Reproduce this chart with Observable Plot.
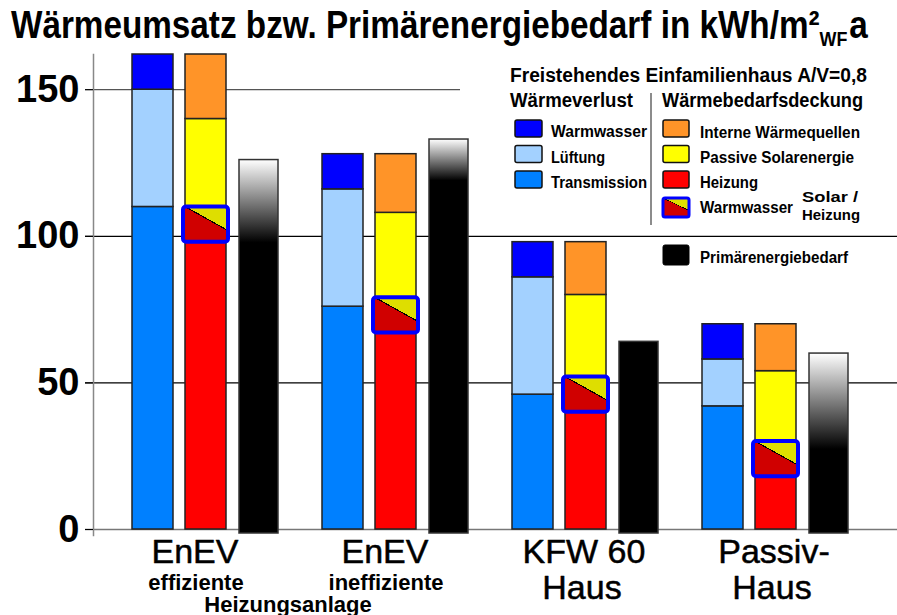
<!DOCTYPE html>
<html><head><meta charset="utf-8">
<script src="https://cdn.jsdelivr.net/npm/d3@7"></script>
<script src="https://cdn.jsdelivr.net/npm/@observablehq/plot@0.6"></script>
<style>
body{margin:0;background:#fff;}
#wrap{position:relative;width:897px;height:615px;overflow:hidden;font-family:"Liberation Sans",Arial,sans-serif;background:#fff;}
#title{height:50px;}
#title svg, #legend{display:block;}
#legend{position:absolute;left:0;top:0;}
</style></head><body>
<div id="wrap"><div id="title"></div><div id="chart"></div></div>
<script>
// ---------- data ----------
const groups = ["EnEV effizient", "EnEV ineffizient", "KFW 60 Haus", "Passivhaus"];
const labelLine1 = ["EnEV", "EnEV", "KFW 60", "Passiv-"];
const labelLine2 = ["", "", "Haus", "Haus"];
const labelSub = ["effiziente", "ineffiziente", "", ""];
const labelShared = "Heizungsanlage";

const lossTypes = ["Transmission", "Lüftung", "Warmwasser"];
const transmission = [110, 76, 46, 42];
const lueftung = [40, 40, 40, 16];
const warmwasser = [12, 12, 12, 12];

const supplyTypes = ["Heizung", "Passive Solarenergie", "Interne Wärmequellen"];
const heizung = [110, 79, 52, 30];
const passivSolar = [30, 29, 28, 24];
const interneQuellen = [22, 20, 18, 16];

const primaerenergie = [126, 133, 64, 60];
const primaerSchwarzAb = [98, 119, 64, 28];

const yTicks = [0, 50, 100, 150];
const yMax = 162;

const titleMain = "Wärmeumsatz bzw. Primärenergiebedarf in kWh/m²";
const titleSub = "WF";
const titleEnd = "a";
const legendHead = "Freistehendes Einfamilienhaus A/V=0,8";
const legendLossHead = "Wärmeverlust";
const legendSupplyHead = "Wärmebedarfsdeckung";
const legendLoss = ["Warmwasser", "Lüftung", "Transmission"];
const legendSupply = ["Interne Wärmequellen", "Passive Solarenergie", "Heizung"];
const legendWW = "Warmwasser";
const legendWWNote = ["Solar /", "Heizung"];
const legendPrimary = "Primärenergiebedarf";

// ---------- styles ----------
const typeColors = {
  "Transmission": "#0080ff", "Lüftung": "#a3d1ff", "Warmwasser": "#0000ff",
  "Heizung": "#ff0000", "Passive Solarenergie": "#ffff00", "Interne Wärmequellen": "#ff9428"
};
const FONT = "'Liberation Sans', Arial, sans-serif";

// ---------- tables ----------
const lossValues = [transmission, lueftung, warmwasser];
const supplyValues = [heizung, passivSolar, interneQuellen];
const lossData = [], supplyData = [];
groups.forEach((g, i) => {
  lossTypes.forEach((t, k) => lossData.push({group: g, type: t, value: lossValues[k][i]}));
  supplyTypes.forEach((t, k) => supplyData.push({group: g, type: t, value: supplyValues[k][i]}));
});
const wwBox = groups.map((g, i) => ({group: g, y1: heizung[i] - warmwasser[i], y2: heizung[i]}));
const primaryData = groups.map((g, i) => ({group: g, value: primaerenergie[i]}));
const labels = groups.map((g, i) => ({group: g, l1: labelLine1[i], l2: labelLine2[i], sub: labelSub[i]}));

// ---------- plot ----------
const LOSS = {insetLeft: 0, insetRight: 106};
const SUP = {insetLeft: 53, insetRight: 53};
const PRIM = {insetLeft: 107, insetRight: 1};
const BIG = {fontSize: 34, fill: "#000", stroke: "#000", strokeWidth: 0.5};

const plot = Plot.plot({
  width: 897, height: 565,
  marginTop: 4, marginBottom: 86, marginLeft: 131, marginRight: 46,
  style: {background: "transparent", fontFamily: FONT, fontSize: "10px", overflow: "visible"},
  x: {domain: groups, paddingInner: 0.225, paddingOuter: 0, axis: null},
  y: {domain: [0, yMax], axis: null},
  color: {domain: Object.keys(typeColors), range: Object.values(typeColors)},
  marks: [
    Plot.ruleY(yTicks.filter(d => d === 150), {stroke: "#555", strokeWidth: 1.3, insetLeft: -46, insetRight: 391}),
    Plot.ruleY(yTicks.filter(d => d > 0 && d < 150), {stroke: "#000", strokeWidth: 1.3, insetLeft: -46, insetRight: -46}),
    Plot.ruleY([0], {stroke: "#777", strokeWidth: 1.5, insetLeft: -46, insetRight: -46}),
    Plot.frame({anchor: "left", dx: -38, insetBottom: -6, stroke: "#888", strokeWidth: 1.5}),
    Plot.axisY({ticks: yTicks, tickSize: 8, dx: -38, tickPadding: 6, fontSize: 38, fontWeight: "bold", tickFormat: d => d, label: null, stroke: "#000"}),
    Plot.barY(lossData, {x: "group", y: "value", fill: "type", stroke: "#222", strokeWidth: 1.5, ...LOSS}),
    Plot.barY(supplyData, {x: "group", y: "value", fill: "type", stroke: "#222", strokeWidth: 1.5, ...SUP}),
    Plot.barY(wwBox, {x: "group", y1: "y1", y2: "y2", fill: "url(#wwsplit)", ...SUP}),
    Plot.barY(wwBox, {x: "group", y1: "y1", y2: "y2", fill: "none", stroke: "#0000ff", strokeWidth: 4, rx: 3, insetLeft: 51, insetRight: 51}),
    ...primaryData.map((d, i) => Plot.barY([d], {x: "group", y: "value", fill: `url(#prim${i})`, stroke: "#333", strokeWidth: 1.5, insetBottom: -4, ...PRIM})),
    Plot.text(labels.filter((d, i) => i < 2), {x: "group", text: "l1", frameAnchor: "bottom", lineAnchor: "bottom", dy: 33, dx: -11, ...BIG}),
    Plot.text(labels.filter((d, i) => i >= 2), {x: "group", text: "l1", frameAnchor: "bottom", lineAnchor: "bottom", dy: 33, dx: -2, ...BIG}),
    Plot.text(labels.filter(d => d.l2), {x: "group", text: "l2", frameAnchor: "bottom", lineAnchor: "bottom", dy: 69, dx: -4, ...BIG}),
    Plot.text(labels.filter(d => d.sub), {x: "group", text: "sub", frameAnchor: "bottom", lineAnchor: "bottom", dy: 60, dx: -10, fontSize: 22, fontWeight: "bold", fill: "#000"}),
    Plot.text([groups[0]], {x: d => d, text: () => labelShared, frameAnchor: "bottom", lineAnchor: "bottom", dy: 82, dx: 82, fontSize: 22, fontWeight: "bold", fill: "#000"})
  ]
});

// gradients
const NS = "http://www.w3.org/2000/svg";
function el(name, attrs, parent) {
  const e = document.createElementNS(NS, name);
  for (const k in attrs) e.setAttribute(k, attrs[k]);
  if (parent) parent.appendChild(e);
  return e;
}
const defs = el("defs", {});
plot.insertBefore(defs, plot.firstChild);
primaerenergie.forEach((v, i) => {
  const f = Math.max(0, (v - primaerSchwarzAb[i]) / v);
  const g = el("linearGradient", {id: `prim${i}`, x1: 0, y1: 0, x2: 0, y2: 1}, defs);
  el("stop", {offset: 0, "stop-color": f > 0 ? "#ffffff" : "#000"}, g);
  el("stop", {offset: f, "stop-color": "#000"}, g);
  el("stop", {offset: 1, "stop-color": "#000"}, g);
});
{
  const g = el("linearGradient", {id: "wwsplit", x1: 0.325, y1: -0.5, x2: -0.325, y2: 0.5}, defs);
  el("stop", {offset: 0, "stop-color": "#dede00"}, g);
  el("stop", {offset: 0.49, "stop-color": "#dede00"}, g);
  el("stop", {offset: 0.49, "stop-color": "#000"}, g);
  el("stop", {offset: 0.515, "stop-color": "#000"}, g);
  el("stop", {offset: 0.515, "stop-color": "#d00000"}, g);
  el("stop", {offset: 1, "stop-color": "#d00000"}, g);
}
document.getElementById("chart").appendChild(plot);

// ---------- title (one text element, horizontally fitted) ----------
const tsvg = el("svg", {width: 897, height: 50}, null);
const title = el("text", {x: 0, y: 0, "font-size": 39, "font-weight": "bold", "font-family": FONT, fill: "#000"}, tsvg);
title.appendChild(document.createTextNode(titleMain));
const tsub = el("tspan", {"font-size": 21, dy: 8}, title);
tsub.textContent = titleSub;
const tend = el("tspan", {dy: -8, dx: 2}, title);
tend.textContent = titleEnd;
document.getElementById("title").appendChild(tsvg);
const natural = title.getComputedTextLength() || 986;
title.setAttribute("transform", `translate(11,38) scale(${855 / natural},1)`);

// ---------- legend ----------
const lsvg = el("svg", {id: "legend", width: 897, height: 615}, null);
const lt = (txt, x, y, size, len) => {
  const t = el("text", {x, y, "font-size": size, "font-weight": "bold", "font-family": FONT, fill: "#000"}, lsvg);
  if (len) { t.setAttribute("textLength", len); t.setAttribute("lengthAdjust", "spacingAndGlyphs"); }
  t.textContent = txt;
};
const sw = (x, y, w, h, fill, stroke, sw_) => el("rect", {x, y, width: w, height: h, rx: 2, fill, stroke, "stroke-width": sw_}, lsvg);
lt(legendHead, 510, 82, 20, 357);
lt(legendLossHead, 510, 107, 20, 123);
lt(legendSupplyHead, 662, 107, 20, 201);
el("line", {x1: 651, x2: 651, y1: 93, y2: 225, stroke: "#666", "stroke-width": 1.5}, lsvg);
const lossLens = [96, 54, 96];
legendLoss.forEach((name, k) => {
  sw(515, 120 + k * 25.5, 27, 17, typeColors[name], "#111", 1.5);
  lt(name, 551, 137 + k * 25.5, 16, lossLens[k]);
});
const supLens = [160, 154, 58];
legendSupply.forEach((name, k) => {
  sw(663, 120 + k * 25.5, 26, 17, typeColors[name], "#111", 1.5);
  lt(name, 700, 138 + k * 25, 16, supLens[k]);
});
sw(663, 198, 26, 19, "url(#wwsplit)", "#0000ff", 3);
lt(legendWW, 700, 213, 16, 93);
lt(legendWWNote[0], 802, 202, 14, 56);
lt(legendWWNote[1], 802, 220, 14, 58);
sw(663, 245, 26, 20, "#000", "#000", 1);
lt(legendPrimary, 700, 263, 16, 148);
document.getElementById("wrap").appendChild(lsvg);
</script>
</body></html>
